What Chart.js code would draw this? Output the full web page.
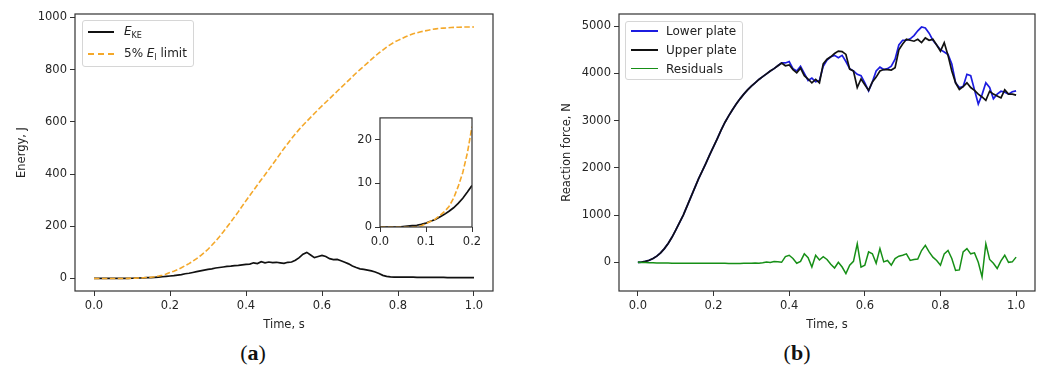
<!DOCTYPE html>
<html lang="en">
<head>
    <meta charset="UTF-8">
    <title>Energy and reaction force</title>
    <script src="https://cdn.jsdelivr.net/npm/chart.js"></script>
    <style>
        /* whole figure */
        body {
            margin: 0px;
            background: white;
            font-family: "DejaVu Sans", sans-serif;
        }
        .fig {
            position: relative;
            width: 1045px;
            height: 377px;
        }
        .fig canvas {
            position: absolute;
        }
        #graphA { left: 0px; top: 0px; }
        #graphB { left: 520px; top: 0px; }
        #inset { left: 350px; top: 108px; }
        /* legends drawn inside the axes */
        .legend {
            position: absolute;
            box-sizing: border-box;
            background: rgba(255, 255, 255, 0.85);
            border: 1px solid #d6d6d6;
            border-radius: 3px;
            font-size: 12px;
            color: #222;
        }
        .row {
            display: flex;
            align-items: center;
            white-space: nowrap;
        }
        .swatch {
            margin-left: 5px;
            height: 0px;
        }
        .panel {
            position: absolute;
            top: 340px;
            width: 60px;
            text-align: center;
            font-family: "Liberation Serif", serif;
            font-size: 22px;
            color: #111;
        }
    </style>
</head>
<body>
<div class="fig">
    <canvas id="graphA" width="510" height="335"></canvas>
    <canvas id="graphB" width="525" height="335"></canvas>
    <canvas id="inset" width="135" height="142"></canvas>

    <div class="legend" style="left:82px; top:20px; width:112px; height:47px;">
        <div class="row" style="height:22px;">
            <div class="swatch" style="width:26px; border-top:2px solid #111;"></div>
            <span style="margin-left:10px;"><i>E</i><sub style="font-size:8px;">KE</sub></span>
        </div>
        <div class="row" style="height:22px;">
            <div class="swatch" style="width:26px; border-top:2px dashed #f4a82a;"></div>
            <span style="margin-left:10px;">5% <i>E</i><sub style="font-size:8px;">l</sub> limit</span>
        </div>
    </div>

    <div class="legend" style="left:625px; top:21px; width:118px; height:59px;">
        <div class="row" style="height:18.7px;">
            <div class="swatch" style="width:27px; border-top:2.5px solid #1c1ce0;"></div>
            <span style="margin-left:8px;">Lower plate</span>
        </div>
        <div class="row" style="height:18.7px;">
            <div class="swatch" style="width:27px; border-top:2px solid #111;"></div>
            <span style="margin-left:8px;">Upper plate</span>
        </div>
        <div class="row" style="height:18.7px;">
            <div class="swatch" style="width:27px; border-top:1.5px solid #168f16;"></div>
            <span style="margin-left:8px;">Residuals</span>
        </div>
    </div>

    <div class="panel" style="left:223px;">(<b>a</b>)</div>
    <div class="panel" style="left:767px;">(<b>b</b>)</div>
</div>

<script>
    // time axis, s
    const time = [
        0.00, 0.01, 0.02, 0.03, 0.04, 0.05, 0.06, 0.07, 0.08, 0.09,
        0.10, 0.11, 0.12, 0.13, 0.14, 0.15, 0.16, 0.17, 0.18, 0.19,
        0.20, 0.21, 0.22, 0.23, 0.24, 0.25, 0.26, 0.27, 0.28, 0.29,
        0.30, 0.31, 0.32, 0.33, 0.34, 0.35, 0.36, 0.37, 0.38, 0.39,
        0.40, 0.41, 0.42, 0.43, 0.44, 0.45, 0.46, 0.47, 0.48, 0.49,
        0.50, 0.51, 0.52, 0.53, 0.54, 0.55, 0.56, 0.57, 0.58, 0.59,
        0.60, 0.61, 0.62, 0.63, 0.64, 0.65, 0.66, 0.67, 0.68, 0.69,
        0.70, 0.71, 0.72, 0.73, 0.74, 0.75, 0.76, 0.77, 0.78, 0.79,
        0.80, 0.81, 0.82, 0.83, 0.84, 0.85, 0.86, 0.87, 0.88, 0.89,
        0.90, 0.91, 0.92, 0.93, 0.94, 0.95, 0.96, 0.97, 0.98, 0.99, 1.00];

    // (a) kinetic energy, J
    const eKE = [
        0, 0, 0, 0, 0, 0.1, 0.2, 0.3, 0.4, 0.6,
        0.9, 1.3, 1.7, 2.3, 2.9, 3.6, 4.4, 5.4, 6.6, 8.0,
        9.5, 11, 13, 15, 18, 20, 23, 26, 29, 32,
        35, 37, 40, 42, 44, 46, 47, 49, 50, 52,
        54, 55, 60, 57, 64, 60, 63, 61, 62, 60,
        58, 62, 63, 70, 80, 93, 100, 90, 80, 84,
        88, 84, 76, 72, 73, 68, 62, 56, 48, 42,
        37, 35, 32, 29, 25, 19, 12, 8, 6, 5,
        5, 5, 5, 5, 5, 4.5, 4.5, 4.5, 4, 4,
        4, 4, 4, 3.5, 3.5, 3.5, 3, 3, 3, 3, 3];

    // (a) 5% of internal energy, J
    const eLimit = [
        0, 0, 0, 0, 0, 0, 0, 0, 0.1, 0.3,
        0.8, 1.3, 1.8, 2.6, 3.5, 4.7, 6.6, 9.3, 12.5, 17,
        23, 28, 34, 41, 49, 57, 66, 76, 87, 99,
        112, 127, 143, 160, 178, 197, 216, 236, 256, 277,
        298, 318, 338, 358, 378, 397, 417, 437, 457, 478,
        498, 517, 536, 554, 571, 587, 602, 617, 632, 647,
        661, 675, 689, 703, 717, 731, 745, 759, 773, 787,
        800, 813, 826, 839, 852, 864, 875, 886, 896, 905,
        912, 919, 926, 932, 937, 941, 945, 948, 951, 954,
        956, 958, 959, 960, 961, 962, 962, 963, 963, 963, 963];

    // (b) reaction forces, N
    const lowerPlate = [
        0, 5, 20, 45, 80, 130, 200, 290, 400, 530,
        680, 840, 1000, 1190, 1380, 1570, 1760, 1930, 2100, 2280,
        2450, 2620, 2800, 2960, 3100, 3230, 3350, 3460, 3560, 3650,
        3730, 3800, 3870, 3930, 3990, 4050, 4100, 4160, 4220, 4220,
        4250, 4100, 4050, 4150, 4000, 3850, 3900, 3820, 3850, 4150,
        4280, 4350, 4380, 4330, 4380, 4250, 4100, 4050, 3980, 3950,
        3800, 3630, 3820, 4050, 4130, 4080, 4100, 4150, 4300, 4600,
        4700, 4700, 4730, 4800, 4900, 4980, 4960, 4850, 4700, 4600,
        4500, 4450, 4400, 4200, 3800, 3700, 3720, 3980, 3950, 3650,
        3350, 3550, 3800, 3700, 3460, 3560, 3620, 3600, 3560, 3610, 3630];

    const upperPlate = [
        0, 5, 20, 45, 80, 130, 200, 290, 400, 530,
        680, 840, 1000, 1190, 1380, 1570, 1760, 1930, 2100, 2280,
        2450, 2620, 2800, 2960, 3100, 3230, 3350, 3460, 3560, 3650,
        3730, 3800, 3870, 3930, 3990, 4050, 4100, 4160, 4220, 4160,
        4180, 4080, 4010, 4110, 3950, 3880, 3800, 3870, 3800, 4200,
        4300, 4350, 4420, 4470, 4460, 4400, 4090, 4050, 3700, 3880,
        3760, 3640, 3820, 3920, 4050, 4080, 4080, 4070, 4120, 4500,
        4620, 4720, 4700, 4680, 4720, 4650, 4750, 4700, 4720, 4600,
        4470, 4650, 4380, 4050, 3800, 3660, 3720, 3800, 3700, 3640,
        3560, 3500, 3430, 3620, 3560, 3520, 3480, 3650, 3560, 3560, 3540];

    const residuals = [
        0, -3, -6, -9, -11, -13, -14, -15, -16, -17,
        -18, -18, -19, -19, -20, -20, -20, -21, -21, -21,
        -22, -22, -22, -22, -23, -23, -23, -23, -22, -20,
        -18, -15, -20, -10, 5, -5, 15, 10, 0, 120,
        150, 80, -20, 20, 180, 100, -100, 150, 50, 120,
        60, -40, -120, 0, -100, -240, -60, 20, 390, -100,
        -60, 220, 180, -20, 290, 10, 40, -60, 80, 130,
        150, 180, 40, 60, 70, 250, 360, 220, 110, 40,
        -60, 180, 250, 80, -170, -160, 220, 290, 180, 200,
        0, -310, 390, 60, -20, -130, 30, 150, 0, 10, 110];

    // tick labels
    const xTicks = [0.0, 0.2, 0.4, 0.6, 0.8, 1.0];
    const energyTicks = [0, 200, 400, 600, 800, 1000];
    const forceTicks = [0, 1000, 2000, 3000, 4000, 5000];
    const insetXTicks = [0.0, 0.1, 0.2];
    const insetYTicks = [0, 10, 20];

    const tickFont = {family: 'DejaVu Sans', size: 11.5};
    const inkColor = '#262626';

    function points(ys) {
        return time.map((t, i) => ({x: t, y: ys[i]}));
    }

    // full box around the axes, like matplotlib spines
    const framePlugin = {
        id: 'frame',
        beforeDatasetsDraw(chart) {
            const a = chart.chartArea;
            chart.ctx.save();
            chart.ctx.fillStyle = 'white';
            chart.ctx.fillRect(a.left, a.top, a.right - a.left, a.bottom - a.top);
            chart.ctx.restore();
        },
        afterDraw(chart) {
            const a = chart.chartArea;
            const ctx = chart.ctx;
            ctx.save();
            ctx.strokeStyle = '#333';
            ctx.lineWidth = 1.2;
            ctx.strokeRect(a.left, a.top, a.right - a.left, a.bottom - a.top);
            ctx.restore();
        }
    };

    function makeScale(min, max, ticks, fmt, fixed, title, titlePad) {
        return {
            type: 'linear',
            min: min,
            max: max,
            border: {display: false},
            grid: {drawOnChartArea: false, drawTicks: true, tickLength: 5, color: '#333'},
            ticks: {font: tickFont, color: inkColor, padding: 3, callback: fmt},
            afterBuildTicks: s => { s.ticks = ticks.map(v => ({value: v})); },
            afterFit: fixed,
            title: {
                display: !!title,
                text: title,
                font: tickFont,
                color: inkColor,
                padding: titlePad
            }
        };
    }

    function lineSet(label, ys, color, width, order, dash) {
        return {
            label: label,
            data: points(ys),
            borderColor: color,
            borderWidth: width,
            borderDash: dash || [],
            pointRadius: 0,
            tension: 0,
            fill: false,
            order: order
        };
    }

    const baseOptions = {
        responsive: false,
        animation: false,
        devicePixelRatio: 1,
        plugins: {legend: {display: false}, tooltip: {enabled: false}}
    };

    // (a) energy
    new Chart(document.getElementById('graphA'), {
        type: 'line',
        data: {
            datasets: [
                lineSet('E_KE', eKE, '#111', 1.7, 1),
                lineSet('5% E_l limit', eLimit, '#f4a82a', 1.6, 0, [5.5, 2.4])
            ]
        },
        options: Object.assign({}, baseOptions, {
            layout: {padding: {left: 0, top: 14, right: 17, bottom: 0}},
            scales: {
                x: makeScale(-0.05, 1.05, xTicks, v => v.toFixed(1),
                    s => { s.height = 44; }, 'Time, s', {top: 2, bottom: 3}),
                y: makeScale(-48, 1013, energyTicks, v => String(v),
                    s => { s.width = 75; }, 'Energy, J', {top: 15, bottom: 0})
            }
        }),
        plugins: [framePlugin]
    });

    // (a) inset, first 0.2 s
    new Chart(document.getElementById('inset'), {
        type: 'line',
        data: {
            datasets: [
                lineSet('E_KE', eKE, '#111', 1.7, 1),
                lineSet('5% E_l limit', eLimit, '#f4a82a', 1.6, 0, [5.5, 2.4])
            ]
        },
        options: Object.assign({}, baseOptions, {
            layout: {padding: {left: 0, top: 8, right: 13, bottom: 0}},
            scales: {
                x: makeScale(0, 0.2, insetXTicks, v => v.toFixed(1),
                    s => { s.height = 23; }, '', 0),
                y: makeScale(0, 25, insetYTicks, v => String(v),
                    s => { s.width = 30; }, '', 0)
            }
        }),
        plugins: [framePlugin]
    });

    // (b) reaction force
    new Chart(document.getElementById('graphB'), {
        type: 'line',
        data: {
            datasets: [
                lineSet('Lower plate', lowerPlate, '#1c1ce0', 1.7, 2),
                lineSet('Upper plate', upperPlate, '#111', 1.7, 1),
                lineSet('Residuals', residuals, '#168f16', 1.5, 0)
            ]
        },
        options: Object.assign({}, baseOptions, {
            layout: {padding: {left: 0, top: 14, right: 10, bottom: 0}},
            scales: {
                x: makeScale(-0.05, 1.05, xTicks, v => v.toFixed(1),
                    s => { s.height = 44; }, 'Time, s', {top: 2, bottom: 3}),
                y: makeScale(-607, 5256, forceTicks, v => String(v),
                    s => { s.width = 99; }, 'Reaction force, N', {top: 40, bottom: 0})
            }
        }),
        plugins: [framePlugin]
    });
</script>
</body>
</html>
